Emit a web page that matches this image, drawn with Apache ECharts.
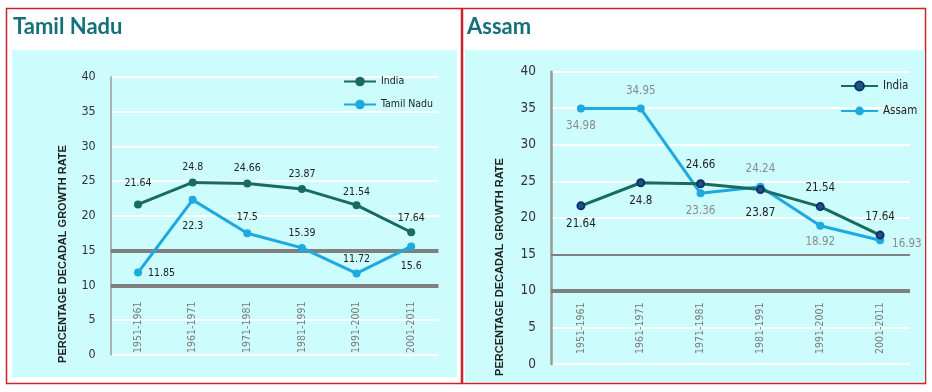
<!DOCTYPE html>
<html><head><meta charset="utf-8">
<script src="https://cdn.jsdelivr.net/npm/echarts@6/dist/echarts.min.js"></script>
<style>html,body{margin:0;padding:0;background:#fff}#c{width:932px;height:392px}</style>
</head><body><div id="c"></div>
<script>
const categories = ['1951-1961','1961-1971','1971-1981','1981-1991','1991-2001','2001-2011'];
const yTicks = [0,5,10,15,20,25,30,35,40];
const indiaValues = [21.64, 24.8, 24.66, 23.87, 21.54, 17.64];
const tamilNaduValues = [11.85, 22.3, 17.5, 15.39, 11.72, 15.6];
const assamValues = [34.98, 34.95, 23.36, 24.24, 18.92, 16.93];
const referenceLines = [15, 10];
const panelTitles = ['Tamil Nadu', 'Assam'];
const yAxisTitle = 'PERCENTAGE DECADAL GROWTH RATE';

// label placements (styling only)
const tnLabelPos = [['right',6],['bottom',17],['top',6],['top',5],['top',5],['bottom',10]];
const inLeftLabelPos = [['top',12],['top',6],['top',6],['top',5],['top',3],['top',5]];
const inRightLabelPos = [['bottom',8],['bottom',8],['top',8],['bottom',13],['top',8],['top',8]];
const asLabelPos = [['bottom',8],['top',8],['bottom',8],['top',8],['bottom',6],['right',8]];

const NARROW = '"DejaVu Sans Condensed", "Liberation Sans Narrow", "Liberation Sans", sans-serif';
const TEAL = '#176b5f';
const BLUE = '#1ea9e1';

function withLabels(vals, pos, extra) {
  return vals.map((v, i) => {
    const lab = {position: pos[i][0], distance: pos[i][1]};
    if (extra && extra[i]) Object.assign(lab, extra[i]);
    return {value: v, label: lab};
  });
}

const chart = echarts.init(document.getElementById('c'), null, {renderer: 'canvas'});

function xAxis(gridIndex, margin) {
  return {
    type: 'category', gridIndex, data: categories, boundaryGap: true,
    axisLine: {show: false}, axisTick: {show: false},
    axisLabel: {inside: true, rotate: 90, margin, color: '#7a7a7a', fontSize: 10.5, fontFamily: NARROW},
    z: 3
  };
}
function yAxis(gridIndex, fontSize, lw) {
  return {
    type: 'value', gridIndex, min: yTicks[0], max: yTicks[yTicks.length-1], interval: 5,
    axisLine: {show: true, lineStyle: {color: '#9a9a9a', width: lw}},
    axisTick: {show: false},
    axisLabel: {color: '#333', fontSize, fontFamily: NARROW, margin: 15},
    splitLine: {show: true, lineStyle: {color: '#ffffff', width: 2}}
  };
}
function markLine(widths) {
  return {
    silent: true, symbol: 'none', label: {show: false},
    data: referenceLines.map((v, i) => ({yAxis: v, lineStyle: {color: '#808080', width: widths[i], type: 'solid'}}))
  };
}

const TITLE_STYLE = {color: '#16707a', fontSize: 22, fontWeight: 'bold', fontFamily: 'Lato, sans-serif'};
const option = {
  animation: false,
  backgroundColor: '#ffffff',
  title: [
    {text: panelTitles[0], left: 8, top: 11, textStyle: TITLE_STYLE},
    {text: panelTitles[1], left: 462, top: 11, textStyle: TITLE_STYLE}
  ],
  graphic: [
    {type: 'rect', z: -10, shape: {x: 6.5, y: 8.5, width: 455, height: 375}, style: {fill: '#fff', stroke: '#cc2229', lineWidth: 1.5}},
    {type: 'rect', z: -9, shape: {x: 12, y: 50, width: 445, height: 327}, style: {fill: '#ccfcfc'}},
    {type: 'rect', z: -10, shape: {x: 462.5, y: 8.5, width: 463, height: 375}, style: {fill: '#fff', stroke: '#cc2229', lineWidth: 1.5}},
    {type: 'rect', z: -9, shape: {x: 465, y: 50, width: 460, height: 332}, style: {fill: '#ccfcfc'}},
    {type: 'text', z: 5, x: 63, y: 254, rotation: Math.PI/2,
      style: {text: yAxisTitle, fill: '#222', font: 'bold 11px "Liberation Sans", sans-serif', align: 'center', verticalAlign: 'middle'}},
    {type: 'text', z: 5, x: 500, y: 267, rotation: Math.PI/2,
      style: {text: yAxisTitle, fill: '#222', font: 'bold 11px "Liberation Sans", sans-serif', align: 'center', verticalAlign: 'middle'}}
  ],
  legend: [
    {left: 338, top: 71, orient: 'vertical', itemWidth: 32, itemHeight: 12, itemGap: 12,
      data: ['India', 'Tamil Nadu'], textStyle: {fontSize: 10.5, color: '#222', fontFamily: NARROW}},
    {left: 835, top: 75, orient: 'vertical', itemWidth: 37, itemHeight: 11, itemGap: 13,
      data: [{name: 'India '}, {name: 'Assam'}], textStyle: {fontSize: 11.5, color: '#222', fontFamily: NARROW}}
  ],
  grid: [
    {left: 110.7, right: 493.5, top: 76.7, bottom: 37},
    {left: 551, right: 22, top: 71.7, bottom: 28}
  ],
  xAxis: [xAxis(0, 2), xAxis(1, 10)],
  yAxis: [yAxis(0, 12.5, 1.5), yAxis(1, 13.5, 2.5)],
  series: [
    {name: 'India', type: 'line', xAxisIndex: 0, yAxisIndex: 0,
      data: withLabels(indiaValues, inLeftLabelPos),
      symbol: 'circle', symbolSize: 8, lineStyle: {color: TEAL, width: 3}, itemStyle: {color: TEAL},
      label: {show: true, color: '#222', fontSize: 10.5, fontFamily: NARROW},
      markLine: markLine([4, 4]), z: 4},
    {name: 'Tamil Nadu', type: 'line', xAxisIndex: 0, yAxisIndex: 0,
      data: withLabels(tamilNaduValues, tnLabelPos, {0: {offset: [0, 1]}}),
      symbol: 'circle', symbolSize: 8, lineStyle: {color: BLUE, width: 3}, itemStyle: {color: BLUE},
      label: {show: true, color: '#222', fontSize: 10.5, fontFamily: NARROW}, z: 5},
    {name: 'India ', type: 'line', xAxisIndex: 1, yAxisIndex: 1,
      data: withLabels(indiaValues, inRightLabelPos),
      symbol: 'circle', symbolSize: 7, lineStyle: {color: TEAL, width: 3},
      itemStyle: {color: '#1b5a6e', borderColor: '#0e2f78', borderWidth: 2},
      label: {show: true, color: '#222', fontSize: 11.5, fontFamily: NARROW},
      markLine: markLine([2, 4]), z: 5},
    {name: 'Assam', type: 'line', xAxisIndex: 1, yAxisIndex: 1,
      data: withLabels(assamValues, asLabelPos, {5: {offset: [0, 4]}}),
      symbol: 'circle', symbolSize: 8, lineStyle: {color: BLUE, width: 3}, itemStyle: {color: BLUE},
      label: {show: true, color: '#8a8a8a', fontSize: 11.5, fontFamily: NARROW}, z: 4}
  ]
};
chart.setOption(option);
</script></body></html>
